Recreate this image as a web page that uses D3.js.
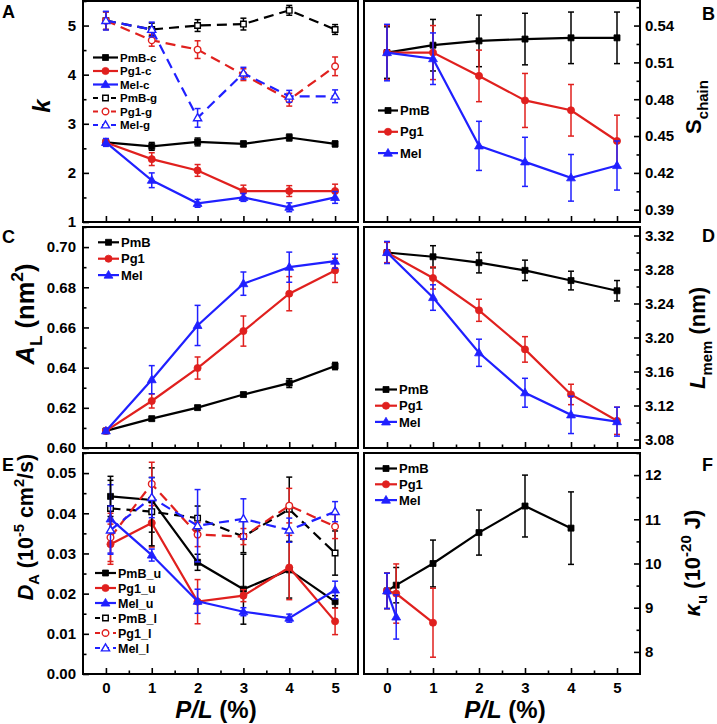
<!DOCTYPE html>
<html><head><meta charset="utf-8">
<script src="https://cdn.jsdelivr.net/npm/d3@7"></script>
<style>
body{margin:0;background:#fff}
text{font-family:"Liberation Sans",Arial,sans-serif;font-weight:bold;fill:#000}
</style>
</head><body><svg id="c" width="717" height="724"></svg>
<script>
// ---------------- DATA ----------------
const xPL = [0, 1, 2, 3, 4, 5];
const xPLE = [0.1, 1, 2, 3, 4, 5];
const xTickLabels = ["0", "1", "2", "3", "4", "5"];

// Panel A : k
const kPmBc = [2.62, 2.54, 2.63, 2.59, 2.72, 2.59];
const kPmBcErr = [0.06, 0.08, 0.08, 0.06, 0.07, 0.06];
const kPg1c = [2.62, 2.28, 2.05, 1.63, 1.63, 1.63];
const kPg1cErr = [0.06, 0.13, 0.12, 0.12, 0.11, 0.14];
const kMelc = [2.62, 1.85, 1.38, 1.50, 1.30, 1.50];
const kMelcErr = [0.08, 0.15, 0.08, 0.08, 0.09, 0.12];
const kPmBg = [5.10, 4.92, 5.00, 5.03, 5.31, 4.92];
const kPmBgErr = [0.18, 0.13, 0.12, 0.12, 0.10, 0.10];
const kPg1g = [5.10, 4.70, 4.51, 4.00, 3.49, 4.17];
const kPg1gErr = [0.18, 0.12, 0.18, 0.12, 0.13, 0.19];
const kMelg = [5.10, 4.92, 3.12, 4.03, 3.56, 3.56];
const kMelgErr = [0.19, 0.15, 0.19, 0.12, 0.12, 0.13];

// Panel B : S_chain
const sPmB = [0.518, 0.524, 0.5275, 0.529, 0.530, 0.530];
const sPmBErr = [0.021, 0.021, 0.021, 0.021, 0.021, 0.021];
const sPg1 = [0.518, 0.518, 0.499, 0.479, 0.471, 0.446];
const sPg1Err = [0.022, 0.022, 0.021, 0.022, 0.021, 0.021];
const sMel = [0.518, 0.513, 0.442, 0.429, 0.416, 0.426];
const sMelErr = [0.023, 0.021, 0.020, 0.020, 0.019, 0.020];

// Panel C : A_L
const aPmB = [0.6085, 0.6146, 0.6201, 0.6266, 0.6323, 0.6408];
const aPmBErr = [0.001, 0.001, 0.001, 0.001, 0.0022, 0.0018];
const aPg1 = [0.6085, 0.6234, 0.6398, 0.6582, 0.6768, 0.6884];
const aPg1Err = [0.001, 0.0035, 0.0055, 0.0075, 0.0085, 0.006];
const aMel = [0.6085, 0.634, 0.661, 0.6818, 0.690, 0.693];
const aMelErr = [0.001, 0.007, 0.010, 0.0058, 0.0075, 0.0035];

// Panel D : L_mem
const lPmB = [3.300, 3.295, 3.288, 3.279, 3.267, 3.255];
const lPmBErr = [0.012, 0.013, 0.012, 0.012, 0.011, 0.012];
const lPg1 = [3.300, 3.270, 3.232, 3.186, 3.133, 3.102];
const lPg1Err = [0.012, 0.013, 0.013, 0.015, 0.012, 0.016];
const lMel = [3.300, 3.247, 3.182, 3.135, 3.109, 3.101];
const lMelErr = [0.013, 0.015, 0.016, 0.017, 0.022, 0.017];

// Panel E : D_A
const dPmBu = [0.0442, 0.0433, 0.0278, 0.0211, 0.0259, 0.0180];
const dPmBuErr = [0.005, 0.008, 0.002, 0.0087, 0.007, 0.0015];
const dPg1u = [0.0323, 0.0376, 0.0180, 0.0195, 0.0265, 0.0131];
const dPg1uErr = [0.005, 0.006, 0.0055, 0.0015, 0.008, 0.0033];
const dMelu = [0.0386, 0.0296, 0.0181, 0.0155, 0.0139, 0.0209];
const dMeluErr = [0.0085, 0.0015, 0.003, 0.001, 0.001, 0.0022];
const dPmBl = [0.0412, 0.0404, 0.0388, 0.0342, 0.0410, 0.0301];
const dPmBlErr = [0.007, 0.0085, 0.003, 0.004, 0.008, 0.0055];
const dPg1l = [0.0340, 0.0473, 0.0347, 0.0342, 0.0419, 0.0367];
const dPg1lErr = [0.006, 0.0054, 0.003, 0.002, 0.0043, 0.003];
const dMell = [0.0358, 0.0439, 0.0369, 0.0386, 0.0358, 0.0404];
const dMellErr = [0.006, 0.005, 0.009, 0.005, 0.003, 0.0025];

// Panel F : kappa_u
const fxPmB = [0, 0.2, 1, 2, 3, 4];
const fPmB = [9.38, 9.51, 10.0, 10.70, 11.30, 10.80];
const fPmBErr = [0.40, 0.40, 0.53, 0.51, 0.70, 0.82];
const fxPg1 = [0, 0.2, 1];
const fPg1 = [9.38, 9.32, 8.66];
const fPg1Err = [0.40, 0.67, 0.78];
const fxMel = [0, 0.2];
const fMel = [9.38, 8.79];
const fMelErr = [0.40, 0.50];

// ---------------- STYLE ----------------
const BLACK = "#000000", RED = "#e0201e", BLUE = "#2020ff";
const svg = d3.select("#c");
const FONT = '"Liberation Sans",Arial,sans-serif';

function range(a, b, s) { const r = []; for (let v = a; v <= b + 1e-9; v += s) r.push(+v.toFixed(6)); return r; }

function marker(g, shape, open, color, x, y) {
  const sym = shape === "square" ? d3.symbolSquare : shape === "circle" ? d3.symbolCircle : d3.symbolTriangle;
  const size = shape === "square" ? 36 : shape === "circle" ? 40 : 34;
  const dy = shape === "triangle" ? 0.5 : 0;
  g.append("path").attr("d", d3.symbol().type(sym).size(open ? size * 0.85 : size)())
    .attr("transform", `translate(${x},${y + dy})`)
    .attr("fill", open ? "#fff" : color).attr("stroke", color).attr("stroke-width", open ? 1.4 : 0.8);
}

function richText(g, x, y, parts, size, rotate, anchor) {
  const t = g.append("text").attr("text-anchor", anchor || "middle").attr("font-size", size)
    .attr("transform", `translate(${x},${y})` + (rotate ? ` rotate(${rotate})` : ""));
  let shift = 0;
  parts.forEach(p => {
    const s = t.append("tspan").text(p.t);
    let target = 0, fs = size;
    if (p.sub) { target = size * 0.3; fs = size * 0.68; }
    if (p.sup) { target = -size * 0.42; fs = size * 0.68; }
    s.attr("dy", target - shift).attr("font-size", fs);
    if (p.italic) s.attr("font-style", "italic");
    if (p.dx) s.attr("dx", p.dx);
    shift = target;
  });
  return t;
}

function panel(o) {
  const xs = d3.scaleLinear().domain([-0.5, 5.5]).range([o.x0, o.x1]);
  const ys = d3.scaleLinear().domain(o.yDomain).range([o.y1, o.y0]);
  const g = svg.append("g");

  g.append("g").attr("transform", `translate(0,${o.y1})`)
    .call(d3.axisBottom(xs).tickValues(xPL).tickSize(-6).tickPadding(8.5)
      .tickFormat((d, i) => o.showX ? xTickLabels[i] : ""));
  g.append("g").attr("transform", `translate(0,${o.y1})`)
    .call(d3.axisBottom(xs).tickValues(range(0.5, 4.5, 1)).tickSize(-3.5).tickFormat(""));

  const axisFn = o.side === "left" ? d3.axisLeft : d3.axisRight;
  const yPos = o.side === "left" ? o.x0 : o.x1;
  g.append("g").attr("transform", `translate(${yPos},0)`)
    .call(axisFn(ys).tickValues(o.majors).tickSize(-6).tickPadding(o.side === "left" ? 7 : 5).tickFormat(o.fmt));
  g.append("g").attr("transform", `translate(${yPos},0)`)
    .call(axisFn(ys).tickValues(o.minors).tickSize(-3.5).tickFormat(""));

  g.selectAll(".domain").remove();
  g.selectAll(".tick line").attr("stroke", "#000").attr("stroke-width", 1.6);
  g.selectAll(".tick text").attr("font-size", 15).attr("font-family", FONT).attr("font-weight", "bold").attr("fill", "#000");

  g.append("rect").attr("x", o.x0).attr("y", o.y0).attr("width", o.x1 - o.x0).attr("height", o.y1 - o.y0)
    .attr("fill", "none").attr("stroke", "#000").attr("stroke-width", 2);

  const sg = g.append("g");
  o.series.forEach(s => {
    const pts = s.y.map((v, i) => ({ x: s.x[i], y: v, e: s.err[i] }));
    sg.append("path").datum(pts)
      .attr("d", d3.line().x(d => xs(d.x)).y(d => ys(d.y)))
      .attr("fill", "none").attr("stroke", s.color).attr("stroke-width", 2.2)
      .attr("stroke-dasharray", s.dash ? "10,6" : null);
    pts.forEach(p => {
      const X = xs(p.x), T = ys(p.y + p.e), B = ys(p.y - p.e);
      sg.append("line").attr("x1", X).attr("x2", X).attr("y1", T).attr("y2", B).attr("stroke", s.color).attr("stroke-width", 1.5);
      [T, B].forEach(yy => sg.append("line").attr("x1", X - 3).attr("x2", X + 3).attr("y1", yy).attr("y2", yy).attr("stroke", s.color).attr("stroke-width", 1.5));
    });
    pts.forEach(p => marker(sg, s.shape, s.open, s.color, xs(p.x), ys(p.y)));
  });

  const L = o.legend;
  o.series.forEach((s, i) => {
    const y = L.y + i * L.dy;
    g.append("line").attr("x1", L.x).attr("x2", L.x + L.len).attr("y1", y).attr("y2", y)
      .attr("stroke", s.color).attr("stroke-width", 2.2).attr("stroke-dasharray", s.dash ? "5,4" : null);
    marker(g, s.shape, s.open, s.color, L.x + L.len / 2, y);
    g.append("text").attr("x", L.x + L.len + 2).attr("y", y).attr("dy", "0.36em").attr("font-size", L.fs).text(s.name);
  });

  g.append("text").attr("x", o.letter[1]).attr("y", o.letter[2]).attr("font-size", 18).text(o.letter[0]);
  return { xs, ys, g };
}

const LX0 = 83, LX1 = 358, RX0 = 364, RX1 = 640;
const ROWS = [[1, 222], [227, 448], [453, 674]];
const f2 = d3.format(".2f"), fd = d3.format("d");

function S(name, x, y, err, color, shape, open, dash) { return { name, x, y, err, color, shape, open, dash }; }

// A
panel({ x0: LX0, x1: LX1, y0: ROWS[0][0], y1: ROWS[0][1], yDomain: [1, 5.5], majors: range(1, 5, 1), minors: range(1.5, 5.5, 1), fmt: fd, side: "left", showX: false,
  series: [S("PmB-c", xPL, kPmBc, kPmBcErr, BLACK, "square", false, false), S("Pg1-c", xPL, kPg1c, kPg1cErr, RED, "circle", false, false),
    S("Mel-c", xPL, kMelc, kMelcErr, BLUE, "triangle", false, false), S("PmB-g", xPL, kPmBg, kPmBgErr, BLACK, "square", true, true),
    S("Pg1-g", xPL, kPg1g, kPg1gErr, RED, "circle", true, true), S("Mel-g", xPL, kMelg, kMelgErr, BLUE, "triangle", true, true)],
  legend: { x: 93, y: 57.5, dy: 13.5, len: 25, fs: 11.5 }, letter: ["A", 2, 18] });
richText(svg, 50, 106, [{ t: "k", italic: true }], 24, -90);

// B
panel({ x0: RX0, x1: RX1, y0: ROWS[0][0], y1: ROWS[0][1], yDomain: [0.38, 0.56], majors: range(0.39, 0.54, 0.03), minors: range(0.405, 0.555, 0.03), fmt: f2, side: "right", showX: false,
  series: [S("PmB", xPL, sPmB, sPmBErr, BLACK, "square"), S("Pg1", xPL, sPg1, sPg1Err, RED, "circle"), S("Mel", xPL, sMel, sMelErr, BLUE, "triangle")],
  legend: { x: 378, y: 110.5, dy: 21.3, len: 20, fs: 13 }, letter: ["B", 702, 20] });
richText(svg, 701, 107, [{ t: "S" }, { t: "chain", sub: true }], 22, -90);

// C
panel({ x0: LX0, x1: LX1, y0: ROWS[1][0], y1: ROWS[1][1], yDomain: [0.60, 0.71], majors: range(0.60, 0.70, 0.02), minors: range(0.61, 0.71, 0.02), fmt: f2, side: "left", showX: false,
  series: [S("PmB", xPL, aPmB, aPmBErr, BLACK, "square"), S("Pg1", xPL, aPg1, aPg1Err, RED, "circle"), S("Mel", xPL, aMel, aMelErr, BLUE, "triangle")],
  legend: { x: 98, y: 242.3, dy: 16.4, len: 21, fs: 13 }, letter: ["C", 2, 243] });
richText(svg, 34, 314, [{ t: "A", italic: true }, { t: "L", sub: true }, { t: " (nm" }, { t: "2", sup: true }, { t: ")" }], 25.5, -90);

// D
panel({ x0: RX0, x1: RX1, y0: ROWS[1][0], y1: ROWS[1][1], yDomain: [3.07, 3.33], majors: range(3.08, 3.32, 0.04), minors: range(3.10, 3.30, 0.04), fmt: f2, side: "right", showX: false,
  series: [S("PmB", xPL, lPmB, lPmBErr, BLACK, "square"), S("Pg1", xPL, lPg1, lPg1Err, RED, "circle"), S("Mel", xPL, lMel, lMelErr, BLUE, "triangle")],
  legend: { x: 375, y: 389.5, dy: 16.2, len: 22, fs: 13 }, letter: ["D", 702, 242] });
richText(svg, 705, 338, [{ t: "L", italic: true }, { t: "mem", sub: true }, { t: " (nm)" }], 22, -90);

// E
panel({ x0: LX0, x1: LX1, y0: ROWS[2][0], y1: ROWS[2][1], yDomain: [0, 0.055], majors: range(0, 0.05, 0.01), minors: range(0.005, 0.055, 0.01), fmt: f2, side: "left", showX: true,
  series: [S("PmB_u", xPLE, dPmBu, dPmBuErr, BLACK, "square", false, false), S("Pg1_u", xPLE, dPg1u, dPg1uErr, RED, "circle", false, false),
    S("Mel_u", xPLE, dMelu, dMeluErr, BLUE, "triangle", false, false), S("PmB_l", xPLE, dPmBl, dPmBlErr, BLACK, "square", true, true),
    S("Pg1_l", xPLE, dPg1l, dPg1lErr, RED, "circle", true, true), S("Mel_l", xPLE, dMell, dMellErr, BLUE, "triangle", true, true)],
  legend: { x: 95, y: 573, dy: 15, len: 21, fs: 12.5 }, letter: ["E", 2, 471] });
richText(svg, 33, 527, [{ t: "D", italic: true }, { t: "A", sub: true }, { t: " (10" }, { t: "-5", sup: true }, { t: " cm" }, { t: "2", sup: true }, { t: "/s)" }], 21.5, -90);

// F
panel({ x0: RX0, x1: RX1, y0: ROWS[2][0], y1: ROWS[2][1], yDomain: [7.5, 12.5], majors: range(8, 12, 1), minors: range(8.5, 12.5, 1), fmt: fd, side: "right", showX: true,
  series: [S("PmB", fxPmB, fPmB, fPmBErr, BLACK, "square"), S("Pg1", fxPg1, fPg1, fPg1Err, RED, "circle"), S("Mel", fxMel, fMel, fMelErr, BLUE, "triangle")],
  legend: { x: 375, y: 468.5, dy: 15.8, len: 22, fs: 13 }, letter: ["F", 702, 471] });
richText(svg, 700, 563, [{ t: "κ", italic: true }, { t: "u", sub: true }, { t: "  (10" }, { t: "-20", sup: true }, { t: " J)" }], 22, -90);

// x titles
richText(svg, 216, 718, [{ t: "P/L", italic: true }, { t: " (%)" }], 24, 0);
richText(svg, 505, 718, [{ t: "P/L", italic: true }, { t: " (%)" }], 24, 0);
</script>
</body></html>
